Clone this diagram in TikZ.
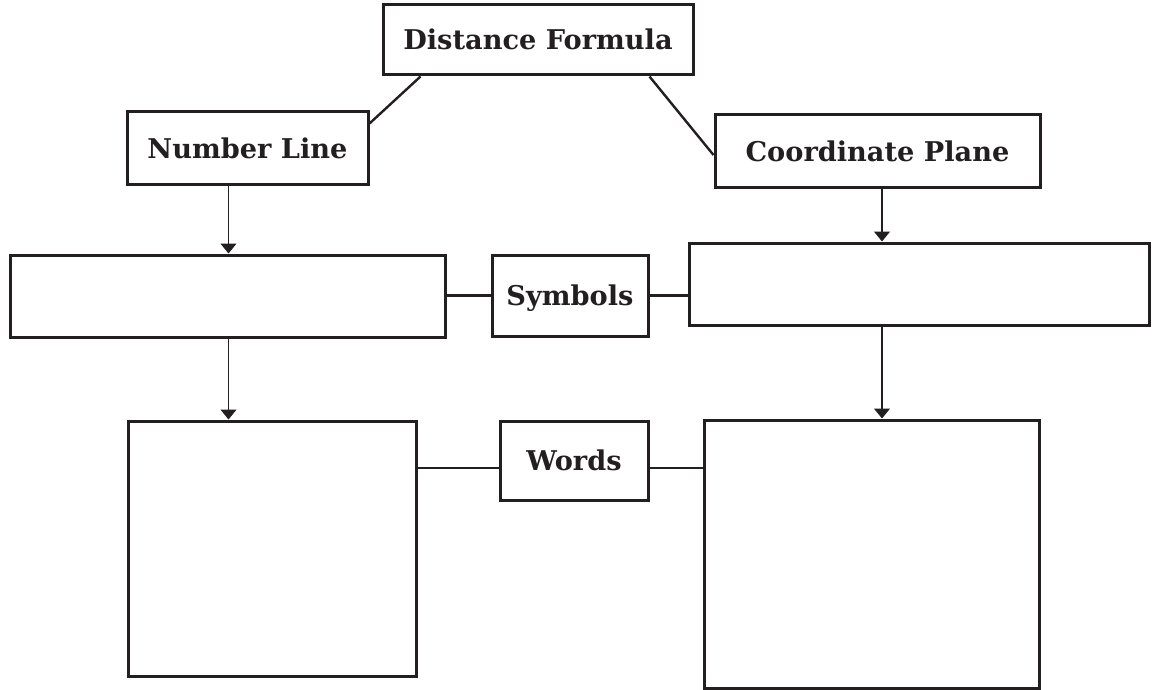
\documentclass[tikz,border=0pt]{standalone}
\usepackage{fontspec}
\setmainfont{DejaVu Serif}
\usetikzlibrary{arrows.meta}
\definecolor{ink}{RGB}{35,31,32}

\begin{document}
\begin{tikzpicture}[x=0.5pt,y=-0.5pt,
  box/.style={draw=ink,line width=1.5pt,inner sep=0pt,align=center,
    font=\fontsize{13.6}{16}\selectfont\bfseries,text=ink,
    text height=9.9pt,text depth=0pt},
  link/.style={draw=ink,line width=1.2pt},
  flow/.style={draw=ink,line width=0.6pt,-{Triangle[width=8pt,length=5pt]}}]

\useasboundingbox (0,0) rectangle (1152,690);

% concept boxes
\node[box,minimum width=155pt,minimum height=35pt] (df) at (538,40) {Distance Formula};
\node[box,minimum width=120.5pt,minimum height=36.5pt] (nl) at (247.5,148.5) {Number Line};
\node[box,minimum width=162.5pt,minimum height=36.5pt] (cp) at (877.5,151.5) {Coordinate Plane};
\node[box,minimum width=217.5pt,minimum height=41pt] (lm) at (227.5,296) {};
\node[box,minimum width=78pt,minimum height=40.5pt] (sy) at (570,295.5) {Symbols};
\node[box,minimum width=230pt,minimum height=41pt] (rm) at (919,284) {};
\node[box,minimum width=144pt,minimum height=127.5pt] (ll) at (272,548.5) {};
\node[box,minimum width=74pt,minimum height=39.5pt] (wo) at (574,460.5) {Words};
\node[box,minimum width=167.5pt,minimum height=134pt] (rl) at (871.5,554) {};

% vertical flow arrows
\coordinate (lx) at (228.5,0);
\coordinate (rx) at (882,0);
\draw[flow] (nl.south -| lx) -- (lm.north -| lx);
\draw[flow] (lm.south -| lx) -- (ll.north -| lx);
\draw[flow] (cp.south -| rx) -- (rm.north -| rx);
\draw[flow] (rm.south -| rx) -- (rl.north -| rx);

% links from the top concept
\draw[link] ([xshift=19.5pt]df.south west) -- ([yshift=-6.5pt]nl.north east);
\draw[link] ([xshift=-22.5pt]df.south east) -- ([yshift=-1.75pt]cp.west);

% side links
\draw[link] (sy.west -| lm.east) -- (sy.west);
\draw[link] (sy.east) -- (sy.east -| rm.west);
\path ([yshift=-3.75pt]wo.west) coordinate (wl);
\path ([yshift=-3.75pt]wo.east) coordinate (wr);
\draw[link] (wl -| ll.east) -- (wl);
\draw[link] (wr) -- (wr -| rl.west);
\end{tikzpicture}
\end{document}
